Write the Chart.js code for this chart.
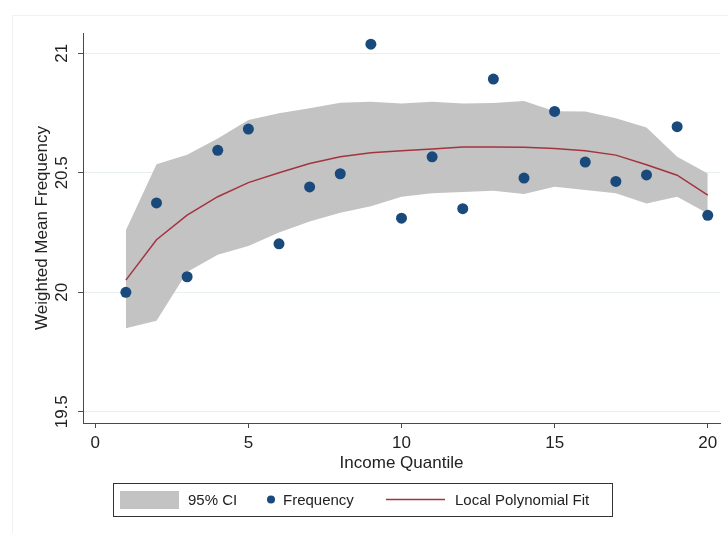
<!DOCTYPE html>
<html>
<head>
<meta charset="utf-8">
<script src="https://cdn.jsdelivr.net/npm/chart.js@4.4.1/dist/chart.umd.min.js"></script>
<style>
  html, body { margin: 0; padding: 0; background: #fff; }
  canvas { display: block; }
</style>
</head>
<body>
<canvas id="lpolyChart" width="728" height="533"></canvas>
<script>
// Weighted mean frequency by income quantile, with local polynomial fit and 95% CI

const quantiles = [1, 2, 3, 4, 5, 6, 7, 8, 9, 10, 11, 12, 13, 14, 15, 16, 17, 18, 19, 20];
const frequency = [20.00, 20.374, 20.065, 20.594, 20.683, 20.203, 20.441, 20.496, 21.038, 20.310,
                   20.567, 20.350, 20.892, 20.478, 20.757, 20.545, 20.464, 20.491, 20.693, 20.322];
const fitValues = [20.051, 20.22, 20.323, 20.40, 20.459, 20.50, 20.539, 20.567, 20.584, 20.592,
                   20.60, 20.608, 20.608, 20.607, 20.602, 20.592, 20.574, 20.534, 20.49, 20.407];
const ciUpper = [20.26, 20.536, 20.576, 20.644, 20.721, 20.749, 20.77, 20.793, 20.797, 20.79,
                 20.797, 20.79, 20.792, 20.80, 20.758, 20.756, 20.728, 20.69, 20.567, 20.497];
const ciLower = [19.849, 19.881, 20.085, 20.157, 20.194, 20.25, 20.296, 20.333, 20.36, 20.40,
                 20.414, 20.42, 20.425, 20.411, 20.442, 20.428, 20.414, 20.372, 20.40, 20.33];
const xTicks = [0, 5, 10, 15, 20];
const yTicks = [19.5, 20, 20.5, 21];
const yTickLabels = ['19.5', '20', '20.5', '21'];

const FONT = '"Liberation Sans", Arial, Helvetica, sans-serif';
const AXIS_FONT_SIZE = 17;
const BAND_GRAY = '#c3c3c3';
const DOT_BLUE = '#1a4a7c';
const FIT_RED = '#a3343f';
const AXIS_COLOR = '#4a4a4a';

const pts = vals => quantiles.map((q, i) => ({ x: q, y: vals[i] }));

// y tick labels are drawn rotated, Stata style; legend is a boxed row under the plot
const decorations = {
    id: 'decorations',
    beforeDraw(chart) {
        const ctx = chart.ctx;
        ctx.save();
        ctx.strokeStyle = '#f1f1f1';
        ctx.lineWidth = 1;
        ctx.strokeRect(12.5, 15.5, 720, 530);
        ctx.restore();
    },
    afterDraw(chart) {
        const ctx = chart.ctx;
        const y = chart.scales.y;
        ctx.save();
        ctx.fillStyle = '#222';
        ctx.font = AXIS_FONT_SIZE + 'px ' + FONT;
        ctx.textAlign = 'center';
        ctx.textBaseline = 'middle';
        yTicks.forEach((v, i) => {
            ctx.save();
            ctx.translate(62, y.getPixelForValue(v));
            ctx.rotate(-Math.PI / 2);
            ctx.fillText(yTickLabels[i], 0, 0);
            ctx.restore();
        });

        // legend
        const ds = chart.data.datasets;
        const top = 483, bottom = 516, mid = (top + bottom) / 2;
        ctx.font = '15px ' + FONT;
        ctx.strokeStyle = '#333';
        ctx.lineWidth = 1;
        ctx.strokeRect(113.5, top + 0.5, 499, bottom - top);
        ctx.fillStyle = ds[0].backgroundColor;
        ctx.fillRect(120, 491, 59, 18);
        ctx.fillStyle = ds[3].backgroundColor;
        ctx.beginPath();
        ctx.arc(271, mid, 4, 0, Math.PI * 2);
        ctx.fill();
        ctx.strokeStyle = ds[2].borderColor;
        ctx.lineWidth = 1.3;
        ctx.beginPath();
        ctx.moveTo(386, mid);
        ctx.lineTo(445, mid);
        ctx.stroke();
        ctx.fillStyle = '#222';
        ctx.textAlign = 'left';
        ctx.fillText('95% CI', 188, mid + 1);
        ctx.fillText('Frequency', 283, mid + 1);
        ctx.fillText('Local Polynomial Fit', 455, mid + 1);
        ctx.restore();
    }
};

new Chart(document.getElementById('lpolyChart'), {
    type: 'scatter',
    data: {
        datasets: [{
            label: '95% CI',
            type: 'line',
            data: pts(ciUpper),
            borderWidth: 0,
            pointRadius: 0,
            backgroundColor: BAND_GRAY,
            fill: '+1',
            order: 3
        }, {
            label: 'CI lower',
            type: 'line',
            data: pts(ciLower),
            borderWidth: 0,
            pointRadius: 0,
            backgroundColor: BAND_GRAY,
            fill: false,
            order: 2
        }, {
            label: 'Local Polynomial Fit',
            type: 'line',
            data: pts(fitValues),
            borderColor: FIT_RED,
            borderWidth: 1.5,
            pointRadius: 0,
            tension: 0,
            fill: false,
            order: 1
        }, {
            label: 'Frequency',
            data: pts(frequency),
            backgroundColor: DOT_BLUE,
            borderColor: DOT_BLUE,
            borderWidth: 0,
            pointRadius: 5.5,
            order: 0
        }]
    },
    options: {
        responsive: false,
        animation: false,
        layout: { padding: { left: 0, right: 8, top: 33, bottom: 59 } },
        plugins: {
            legend: { display: false },
            tooltip: { enabled: false }
        },
        scales: {
            x: {
                type: 'linear',
                min: -0.4,
                max: 20.4,
                afterBuildTicks: s => { s.ticks = xTicks.map(v => ({ value: v })); },
                afterFit: s => { s.height = 51; },
                border: { color: AXIS_COLOR, width: 1 },
                grid: { drawOnChartArea: false, drawTicks: true, tickLength: 5, tickColor: AXIS_COLOR },
                ticks: { color: '#222', font: { family: FONT, size: AXIS_FONT_SIZE }, padding: 5, maxRotation: 0 },
                title: {
                    display: true,
                    text: 'Income Quantile',
                    color: '#222',
                    font: { family: FONT, size: AXIS_FONT_SIZE },
                    padding: { top: 0, bottom: 0 }
                }
            },
            y: {
                type: 'linear',
                min: 19.453,
                max: 21.085,
                afterBuildTicks: s => { s.ticks = yTicks.map(v => ({ value: v })); },
                afterFit: s => { s.width = 83; },
                border: { color: AXIS_COLOR, width: 1 },
                grid: { color: '#e9eff1', lineWidth: 1, drawTicks: true, tickLength: 5, tickColor: AXIS_COLOR },
                ticks: { display: false },
                title: {
                    display: true,
                    text: 'Weighted Mean Frequency',
                    color: '#222',
                    font: { family: FONT, size: AXIS_FONT_SIZE },
                    padding: { top: 32, bottom: 0 }
                }
            }
        }
    },
    plugins: [decorations]
});
</script>
</body>
</html>
